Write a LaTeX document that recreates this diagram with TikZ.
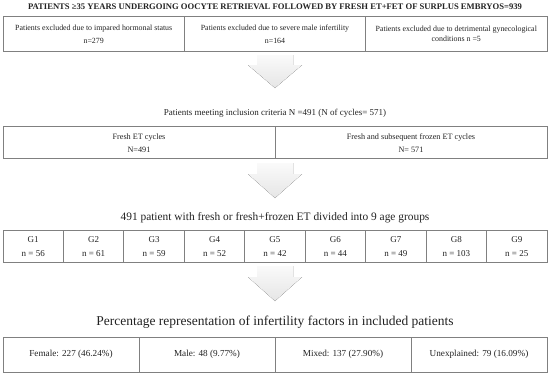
\documentclass[tikz,border=0pt]{standalone}
\usepackage{fontspec}
\setmainfont{Liberation Serif}
\usetikzlibrary{calc}
\definecolor{txt}{HTML}{222222}
\definecolor{ln}{HTML}{808080}
\tikzset{
  cellbox/.style={draw=ln, line width=0.9pt},
  celltxt/.style={text=txt, align=center, inner sep=0pt},
  bigarrow/.style={draw=none, top color=gray!4, bottom color=gray!20},
}
\begin{document}
\begin{tikzpicture}[x=1pt,y=1pt]
\useasboundingbox (0,0) rectangle (550,-375);
% ---- Title 1
\node[celltxt, font=\fontsize{8.6}{10}\selectfont\bfseries] (t1) at (275,-6.5)
  {PATIENTS ≥35 YEARS UNDERGOING OOCYTE RETRIEVAL FOLLOWED BY FRESH ET+FET OF SURPLUS EMBRYOS=939};
% ---- Row 1
\draw[cellbox] (3,-16) rectangle (547,-51);
\draw[cellbox] (184.3,-16) -- (184.3,-51);
\draw[cellbox] (365.7,-16) -- (365.7,-51);
\node[celltxt, font=\fontsize{7.9}{13}\selectfont] (r1a) at (93.7,-34.5) {Patients excluded due to impared hormonal status\\n=279};
\node[celltxt, font=\fontsize{7.9}{13}\selectfont] (r1b) at (275,-34.5) {Patients excluded due to severe male infertility\\n=164};
\node[celltxt, font=\fontsize{7.9}{9.5}\selectfont] (r1c) at (456.3,-34) {Patients excluded due to detrimental gynecological\\conditions n =5};
% ---- Arrow 1
\coordinate (a1) at (275,-55);
\fill[bigarrow] ($(a1)+(-18,0)$) -- ($(a1)+(18,0)$) -- ($(a1)+(18,-10)$) -- ($(a1)+(27,-10)$) -- ($(a1)+(0,-33)$) -- ($(a1)+(-27,-10)$) -- ($(a1)+(-18,-10)$) -- cycle;
% ---- Title 2
\node[celltxt, font=\fontsize{9.0}{11}\selectfont] (t2) at (275,-113) {Patients meeting inclusion criteria N =491 (N of cycles= 571)};
% ---- Row 2
\draw[cellbox] (3,-126) rectangle (547,-158);
\draw[cellbox] (275,-126) -- (275,-158);
\node[celltxt, font=\fontsize{8.2}{13}\selectfont] (r2a) at (139,-143) {Fresh ET cycles\\N=491};
\node[celltxt, font=\fontsize{8.2}{13}\selectfont] (r2b) at (411,-143) {Fresh and subsequent frozen ET cycles\\N= 571};
% ---- Arrow 2
\coordinate (a2) at (275,-163);
\fill[bigarrow] ($(a2)+(-18,0)$) -- ($(a2)+(18,0)$) -- ($(a2)+(18,-11)$) -- ($(a2)+(27,-11)$) -- ($(a2)+(0,-35)$) -- ($(a2)+(-27,-11)$) -- ($(a2)+(-18,-11)$) -- cycle;
% ---- Title 3
\node[celltxt, font=\fontsize{11.4}{13}\selectfont] (t3) at (275,-218) {491 patient with fresh or fresh+frozen ET divided into 9 age groups};
% ---- Row 3
\draw[cellbox] (3,-230) rectangle (547,-262);
\foreach \i in {1,...,8} {\draw[cellbox] ({3+\i*60.444},-230) -- ({3+\i*60.444},-262);}
\foreach \i/\n in {1/56,2/61,3/59,4/52,5/42,6/44,7/49,8/103,9/25} {
  \node[celltxt, font=\fontsize{9}{13.5}\selectfont] (g\i) at ({3+(\i-0.5)*60.444},-246.5) {G\i\\n = \n};
}
% ---- Arrow 3
\coordinate (a3) at (275,-266);
\fill[bigarrow] ($(a3)+(-18,0)$) -- ($(a3)+(18,0)$) -- ($(a3)+(18,-11)$) -- ($(a3)+(27,-11)$) -- ($(a3)+(0,-35)$) -- ($(a3)+(-27,-11)$) -- ($(a3)+(-18,-11)$) -- cycle;
% ---- Title 4
\node[celltxt, font=\fontsize{13.5}{15}\selectfont] (t4) at (275,-322) {Percentage representation of infertility factors in included patients};
% ---- Row 4
\draw[cellbox] (3,-337) rectangle (547,-372);
\foreach \i in {1,2,3} {\draw[cellbox] ({3+\i*136},-337) -- ({3+\i*136},-372);}
\node[celltxt, font=\fontsize{9.2}{11}\selectfont] (f1) at (71,-354.5) {Female: 227 (46.24\%)};
\node[celltxt, font=\fontsize{9.2}{11}\selectfont] (f2) at (207,-354.5) {Male: 48 (9.77\%)};
\node[celltxt, font=\fontsize{9.2}{11}\selectfont] (f3) at (343,-354.5) {Mixed: 137 (27.90\%)};
\node[celltxt, font=\fontsize{9.2}{11}\selectfont] (f4) at (479,-354.5) {Unexplained: 79 (16.09\%)};
\end{tikzpicture}
\end{document}
